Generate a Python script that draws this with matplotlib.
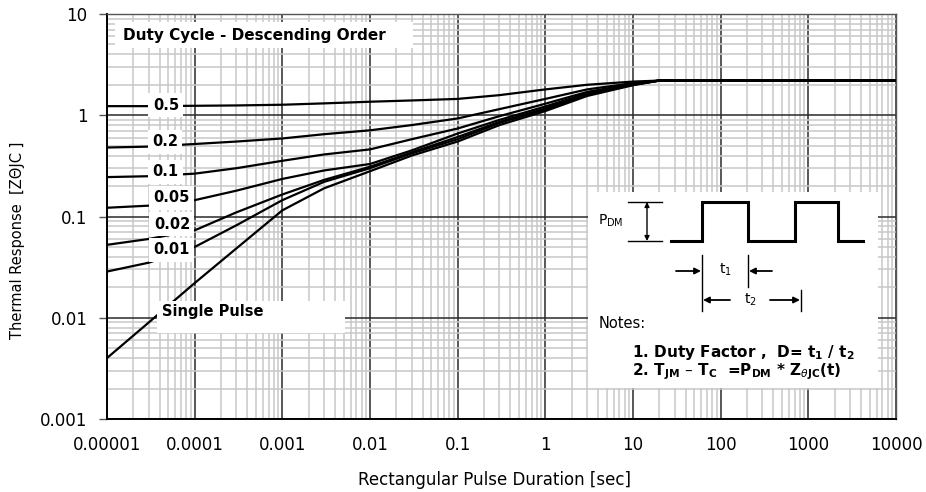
import numpy as np
import matplotlib
matplotlib.use("Agg")
import matplotlib.pyplot as plt
from matplotlib.ticker import LogLocator, NullFormatter, FixedLocator
from matplotlib.patches import Rectangle

# ---------------------------------------------------------------------------
# Data
# ---------------------------------------------------------------------------
pulse_t = [1e-5, 3e-5, 1e-4, 3e-4, 1e-3, 3e-3, 1e-2, 3e-2, 0.1, 0.3, 1, 3, 10, 20, 1e4]

z_d050 = [1.23, 1.23, 1.24, 1.25, 1.27, 1.31, 1.36, 1.40, 1.45, 1.58, 1.80, 2.00, 2.15, 2.2, 2.2]
z_d020 = [0.48, 0.49, 0.52, 0.55, 0.59, 0.65, 0.71, 0.80, 0.93, 1.15, 1.45, 1.80, 2.08, 2.2, 2.2]
z_d010 = [0.245, 0.25, 0.265, 0.30, 0.355, 0.41, 0.46, 0.58, 0.74, 0.98, 1.30, 1.70, 2.05, 2.2, 2.2]
z_d005 = [0.122, 0.128, 0.145, 0.18, 0.235, 0.285, 0.33, 0.45, 0.66, 0.90, 1.22, 1.65, 2.02, 2.2, 2.2]
z_d002 = [0.0525, 0.06, 0.073, 0.11, 0.165, 0.23, 0.31, 0.43, 0.61, 0.86, 1.17, 1.62, 2.00, 2.2, 2.2]
z_d001 = [0.0286, 0.035, 0.05, 0.082, 0.145, 0.22, 0.30, 0.42, 0.58, 0.84, 1.14, 1.60, 2.00, 2.2, 2.2]
z_single = [0.004, 0.009, 0.022, 0.0485, 0.115, 0.19, 0.28, 0.40, 0.55, 0.80, 1.10, 1.55, 1.98, 2.2, 2.2]

curves = [z_d050, z_d020, z_d010, z_d005, z_d002, z_d001, z_single]
curve_labels = ["0.5", "0.2", "0.1", "0.05", "0.02", "0.01"]
# where each duty label sits (x in seconds, y in ZθJC)
label_x = [4.7e-5, 4.6e-5, 4.6e-5, 5.4e-5, 5.5e-5, 5.5e-5]
label_y = [1.26, 0.548, 0.277, 0.153, 0.084, 0.0467]

xtick_vals = [1e-5, 1e-4, 1e-3, 1e-2, 1e-1, 1, 10, 100, 1000, 10000]
xtick_labels = ["0.00001", "0.0001", "0.001", "0.01", "0.1", "1", "10", "100", "1000", "10000"]
ytick_vals = [0.001, 0.01, 0.1, 1, 10]
ytick_labels = ["0.001", "0.01", "0.1", "1", "10"]

# pulse-train sketch for the inset (inset pixel frame)
wave_x = [671, 702, 702, 748, 748, 795, 795, 838, 838, 863]
wave_y = [241, 241, 202, 202, 241, 241, 202, 202, 241, 241]

plt.rcParams["font.family"] = ["DejaVu Sans"]
plt.rcParams["mathtext.fontset"] = "dejavusans"

W, H = 926, 492
fig = plt.figure(figsize=(W / 100, H / 100), dpi=100)
L, R, T, B = 107, 896, 14, 419
ax = fig.add_axes([L / W, 1 - B / H, (R - L) / W, (B - T) / H])

for z in curves:
    ax.plot(pulse_t, z, color="black", lw=1.6, zorder=3, solid_joinstyle="round")

ax.set_xscale("log")
ax.set_yscale("log")
ax.set_xlim(1e-5, 1e4)
ax.set_ylim(1e-3, 10)

ax.xaxis.set_major_locator(FixedLocator(xtick_vals))
ax.set_xticklabels(xtick_labels)
ax.yaxis.set_major_locator(FixedLocator(ytick_vals))
ax.set_yticklabels(ytick_labels)
for axis in (ax.xaxis, ax.yaxis):
    axis.set_minor_locator(LogLocator(base=10, subs=np.arange(2, 10), numticks=100))
    axis.set_minor_formatter(NullFormatter())

ax.grid(True, which="minor", color="#c8c8c8", lw=1.1, zorder=0)
ax.grid(True, which="major", color="#2a2a2a", lw=1.1, zorder=1)
ax.set_axisbelow(True)

ax.tick_params(axis="y", which="major", length=6, width=1, pad=8, labelsize=12, color="#555555")
ax.tick_params(axis="x", which="major", length=0, pad=12, labelsize=12)
ax.tick_params(which="minor", length=0)
for s in ("left", "bottom"):
    ax.spines[s].set_linewidth(1.4)
    ax.spines[s].set_color("black")
for s in ("top", "right"):
    ax.spines[s].set_linewidth(1.0)
    ax.spines[s].set_color("#555555")

fig.text(494 / W, 1 - 480 / H, "Rectangular Pulse Duration [sec]", fontsize=12,
         ha="center", va="center")
fig.text(18 / W, 1 - 240 / H, "Thermal Response  [ZΘJC ]", fontsize=10.5,
         rotation=90, ha="center", va="center")

# duty-cycle labels on white boxes
for txt, lx, ly in zip(curve_labels, label_x, label_y):
    ax.text(lx, ly, txt, fontsize=10.5, fontweight="bold", ha="center", va="center",
            zorder=5, bbox=dict(boxstyle="square,pad=0.3", fc="white", ec="none"))

# white boxes for the title note and the single pulse label
ax.add_patch(Rectangle((0.010, 0.916), 0.378, 0.064, transform=ax.transAxes,
                       fc="white", ec="none", zorder=4))
ax.text(0.0205, 0.948, "Duty Cycle - Descending Order", transform=ax.transAxes,
        fontsize=11, fontweight="bold", ha="left", va="center", zorder=5)
ax.add_patch(Rectangle((0.0634, 0.2123), 0.238, 0.079, transform=ax.transAxes,
                       fc="white", ec="none", zorder=4))
ax.text(0.070, 0.2665, "Single Pulse", transform=ax.transAxes,
        fontsize=10.5, fontweight="bold", ha="left", va="center", zorder=5)

# ---------------------------------------------------------------------------
# Inset: pulse train and notes
# ---------------------------------------------------------------------------
IX0, IX1, IY0, IY1 = 588, 878, 192, 388
ins = fig.add_axes([IX0 / W, 1 - IY1 / H, (IX1 - IX0) / W, (IY1 - IY0) / H])
ins.set_xlim(IX0, IX1)
ins.set_ylim(IY1, IY0)
ins.set_facecolor("white")
ins.axis("off")
ins.add_patch(Rectangle((IX0, IY0), IX1 - IX0, IY1 - IY0, fc="white", ec="none", zorder=0))

ins.plot(wave_x, wave_y, color="black", lw=2.2, solid_joinstyle="miter")
ins.plot([628, 662], [202, 202], color="black", lw=1.0)
ins.plot([628, 662], [241, 241], color="black", lw=1.0)
ins.annotate("", xy=(647, 202), xytext=(647, 241),
             arrowprops=dict(arrowstyle="<|-|>", color="black", lw=1.0,
                             mutation_scale=7, shrinkA=0, shrinkB=0))
ins.text(598, 221, "P$_\\mathrm{DM}$", fontsize=10, ha="left", va="center")

ins.plot([702, 702], [255, 311], color="black", lw=1.0)
ins.plot([748, 748], [255, 287], color="black", lw=1.0)
ins.plot([801, 801], [290, 311], color="black", lw=1.0)
arrow = dict(arrowstyle="-|>", color="black", lw=1.3, mutation_scale=9, shrinkA=0, shrinkB=0)
ins.annotate("", xy=(701, 271), xytext=(676, 271), arrowprops=arrow)
ins.annotate("", xy=(749, 271), xytext=(772, 271), arrowprops=arrow)
ins.annotate("", xy=(703, 300), xytext=(730, 300), arrowprops=arrow)
ins.annotate("", xy=(800, 300), xytext=(770, 300), arrowprops=arrow)
ins.text(725, 270, "t$_\\mathrm{1}$", fontsize=10, ha="center", va="center")
ins.text(750, 300, "t$_\\mathrm{2}$", fontsize=10, ha="center", va="center")

ins.text(599, 324, "Notes:", fontsize=10.5, ha="left", va="center")
ins.text(632, 352, "1. Duty Factor ,  D= t$_\\mathbf{1}$ / t$_\\mathbf{2}$",
         fontsize=11, fontweight="bold", ha="left", va="center")
ins.text(632, 372, "2. T$_\\mathbf{JM}$ \u2013 T$_\\mathbf{C}$  =P$_\\mathbf{DM}$ * Z$_{\\theta\\mathbf{JC}}$(t)",
         fontsize=11, fontweight="bold", ha="left", va="center")

fig.savefig("out.png", dpi=100)
